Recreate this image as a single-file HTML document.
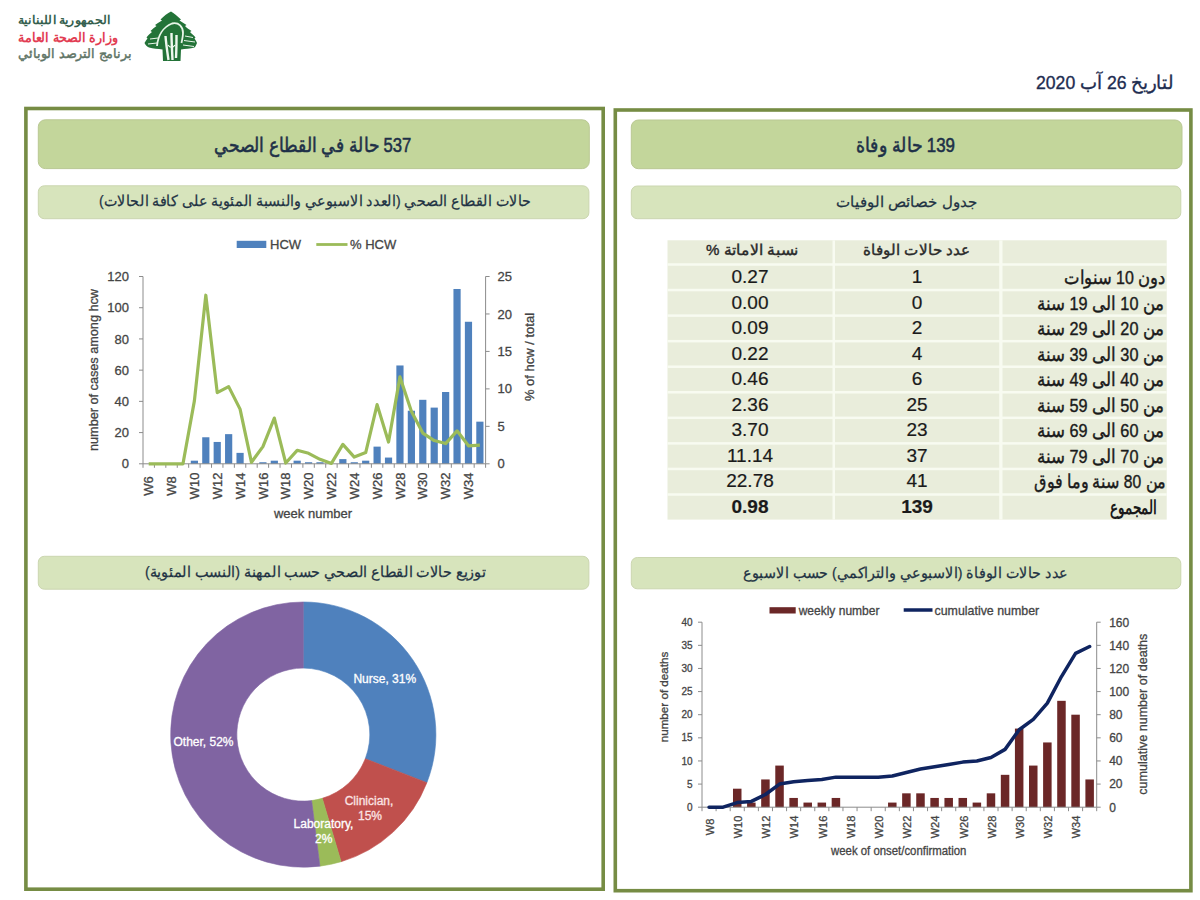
<!DOCTYPE html>
<html><head><meta charset="utf-8"><title>Report</title>
<style>
html,body{margin:0;padding:0;background:#ffffff;}
body{width:1200px;height:900px;position:relative;overflow:hidden;font-family:"Liberation Sans", sans-serif;}
.t{position:absolute;white-space:nowrap;line-height:1.2;transform-origin:0 0;}
.num{text-align:center;font-size:19px;color:#1a1a1a;-webkit-text-stroke:0.2px #1a1a1a;}
</style></head><body>
<svg width="1200" height="900" viewBox="0 0 1200 900" style="position:absolute;left:0;top:0" font-family='"Liberation Sans", sans-serif'>
<rect x="25.9" y="108.5" width="577.3" height="780.7" fill="none" stroke="#768c44" stroke-width="3.6"/>
<rect x="615.3" y="110" width="575.6" height="780.7" fill="none" stroke="#768c44" stroke-width="3.6"/>
<rect x="38.3" y="119.8" width="551" height="48.8" rx="7" fill="#c3d69b" stroke="#b9c893" stroke-width="1"/>
<rect x="631.3" y="120.0" width="550.7" height="48.7" rx="7" fill="#c3d69b" stroke="#b9c893" stroke-width="1"/>
<rect x="38.3" y="185.8" width="550.6" height="32.9" rx="6" fill="#d7e4bc" stroke="#cbd6b0" stroke-width="1"/>
<rect x="631.3" y="186.0" width="549.5" height="32.7" rx="6" fill="#d7e4bc" stroke="#cbd6b0" stroke-width="1"/>
<rect x="38.3" y="556.3" width="550.6" height="32.9" rx="6" fill="#d7e4bc" stroke="#cbd6b0" stroke-width="1"/>
<rect x="631.3" y="557.5" width="549.5" height="31.3" rx="6" fill="#d7e4bc" stroke="#cbd6b0" stroke-width="1"/>
<rect x="667.5" y="240.3" width="499.2" height="279.3" fill="#e9eddb"/>
<rect x="832.5" y="240.3" width="2.5" height="279.3" fill="#f8fbf1"/>
<rect x="999.2" y="240.3" width="3.3" height="279.3" fill="#f8fbf1"/>
<rect x="667.5" y="263.25" width="499.2" height="2.5" fill="#f8fbf1"/>
<rect x="667.5" y="288.81" width="499.2" height="2.5" fill="#f8fbf1"/>
<rect x="667.5" y="314.36" width="499.2" height="2.5" fill="#f8fbf1"/>
<rect x="667.5" y="339.92" width="499.2" height="2.5" fill="#f8fbf1"/>
<rect x="667.5" y="365.47" width="499.2" height="2.5" fill="#f8fbf1"/>
<rect x="667.5" y="391.03" width="499.2" height="2.5" fill="#f8fbf1"/>
<rect x="667.5" y="416.58" width="499.2" height="2.5" fill="#f8fbf1"/>
<rect x="667.5" y="442.14" width="499.2" height="2.5" fill="#f8fbf1"/>
<rect x="667.5" y="467.69" width="499.2" height="2.5" fill="#f8fbf1"/>
<rect x="667.5" y="493.25" width="499.2" height="2.5" fill="#f8fbf1"/>
<line x1="143.0" y1="276.5" x2="143.0" y2="463.8" stroke="#8c8c8c" stroke-width="1"/>
<line x1="485.6" y1="276.5" x2="485.6" y2="463.8" stroke="#8c8c8c" stroke-width="1"/>
<rect x="190.79" y="460.68" width="7.2" height="3.12" fill="#4f81bd"/>
<rect x="202.21" y="437.27" width="7.2" height="26.53" fill="#4f81bd"/>
<rect x="213.63" y="441.95" width="7.2" height="21.85" fill="#4f81bd"/>
<rect x="225.05" y="434.14" width="7.2" height="29.66" fill="#4f81bd"/>
<rect x="236.47" y="452.87" width="7.2" height="10.93" fill="#4f81bd"/>
<rect x="259.31" y="462.24" width="7.2" height="1.56" fill="#4f81bd"/>
<rect x="270.73" y="460.68" width="7.2" height="3.12" fill="#4f81bd"/>
<rect x="293.57" y="460.68" width="7.2" height="3.12" fill="#4f81bd"/>
<rect x="304.99" y="462.24" width="7.2" height="1.56" fill="#4f81bd"/>
<rect x="316.41" y="462.24" width="7.2" height="1.56" fill="#4f81bd"/>
<rect x="339.25" y="459.12" width="7.2" height="4.68" fill="#4f81bd"/>
<rect x="350.67" y="462.24" width="7.2" height="1.56" fill="#4f81bd"/>
<rect x="362.09" y="460.68" width="7.2" height="3.12" fill="#4f81bd"/>
<rect x="373.51" y="446.63" width="7.2" height="17.17" fill="#4f81bd"/>
<rect x="384.93" y="457.56" width="7.2" height="6.24" fill="#4f81bd"/>
<rect x="396.35" y="365.47" width="7.2" height="98.33" fill="#4f81bd"/>
<rect x="407.77" y="410.73" width="7.2" height="53.07" fill="#4f81bd"/>
<rect x="419.19" y="399.81" width="7.2" height="63.99" fill="#4f81bd"/>
<rect x="430.61" y="407.61" width="7.2" height="56.19" fill="#4f81bd"/>
<rect x="442.03" y="392.00" width="7.2" height="71.80" fill="#4f81bd"/>
<rect x="453.45" y="288.99" width="7.2" height="174.81" fill="#4f81bd"/>
<rect x="464.87" y="321.76" width="7.2" height="142.04" fill="#4f81bd"/>
<rect x="476.29" y="421.66" width="7.2" height="42.14" fill="#4f81bd"/>
<line x1="143.0" y1="463.8" x2="485.6" y2="463.8" stroke="#8c8c8c" stroke-width="1"/>
<line x1="139.0" y1="463.80" x2="143.0" y2="463.80" stroke="#8c8c8c" stroke-width="1"/>
<text x="129.0" y="468.40" text-anchor="end" font-size="13" fill="#454545" stroke="#454545" stroke-width="0.3">0</text>
<line x1="139.0" y1="432.58" x2="143.0" y2="432.58" stroke="#8c8c8c" stroke-width="1"/>
<text x="129.0" y="437.18" text-anchor="end" font-size="13" fill="#454545" stroke="#454545" stroke-width="0.3">20</text>
<line x1="139.0" y1="401.37" x2="143.0" y2="401.37" stroke="#8c8c8c" stroke-width="1"/>
<text x="129.0" y="405.97" text-anchor="end" font-size="13" fill="#454545" stroke="#454545" stroke-width="0.3">40</text>
<line x1="139.0" y1="370.15" x2="143.0" y2="370.15" stroke="#8c8c8c" stroke-width="1"/>
<text x="129.0" y="374.75" text-anchor="end" font-size="13" fill="#454545" stroke="#454545" stroke-width="0.3">60</text>
<line x1="139.0" y1="338.93" x2="143.0" y2="338.93" stroke="#8c8c8c" stroke-width="1"/>
<text x="129.0" y="343.53" text-anchor="end" font-size="13" fill="#454545" stroke="#454545" stroke-width="0.3">80</text>
<line x1="139.0" y1="307.72" x2="143.0" y2="307.72" stroke="#8c8c8c" stroke-width="1"/>
<text x="129.0" y="312.32" text-anchor="end" font-size="13" fill="#454545" stroke="#454545" stroke-width="0.3">100</text>
<line x1="139.0" y1="276.50" x2="143.0" y2="276.50" stroke="#8c8c8c" stroke-width="1"/>
<text x="129.0" y="281.10" text-anchor="end" font-size="13" fill="#454545" stroke="#454545" stroke-width="0.3">120</text>
<line x1="485.6" y1="463.80" x2="489.6" y2="463.80" stroke="#8c8c8c" stroke-width="1"/>
<text x="497.6" y="468.40" text-anchor="start" font-size="13" fill="#454545" stroke="#454545" stroke-width="0.3">0</text>
<line x1="485.6" y1="426.34" x2="489.6" y2="426.34" stroke="#8c8c8c" stroke-width="1"/>
<text x="497.6" y="430.94" text-anchor="start" font-size="13" fill="#454545" stroke="#454545" stroke-width="0.3">5</text>
<line x1="485.6" y1="388.88" x2="489.6" y2="388.88" stroke="#8c8c8c" stroke-width="1"/>
<text x="497.6" y="393.48" text-anchor="start" font-size="13" fill="#454545" stroke="#454545" stroke-width="0.3">10</text>
<line x1="485.6" y1="351.42" x2="489.6" y2="351.42" stroke="#8c8c8c" stroke-width="1"/>
<text x="497.6" y="356.02" text-anchor="start" font-size="13" fill="#454545" stroke="#454545" stroke-width="0.3">15</text>
<line x1="485.6" y1="313.96" x2="489.6" y2="313.96" stroke="#8c8c8c" stroke-width="1"/>
<text x="497.6" y="318.56" text-anchor="start" font-size="13" fill="#454545" stroke="#454545" stroke-width="0.3">20</text>
<line x1="485.6" y1="276.50" x2="489.6" y2="276.50" stroke="#8c8c8c" stroke-width="1"/>
<text x="497.6" y="281.10" text-anchor="start" font-size="13" fill="#454545" stroke="#454545" stroke-width="0.3">25</text>
<line x1="143.00" y1="463.8" x2="143.00" y2="467.8" stroke="#8c8c8c" stroke-width="1"/>
<line x1="154.42" y1="463.8" x2="154.42" y2="467.8" stroke="#8c8c8c" stroke-width="1"/>
<line x1="165.84" y1="463.8" x2="165.84" y2="467.8" stroke="#8c8c8c" stroke-width="1"/>
<line x1="177.26" y1="463.8" x2="177.26" y2="467.8" stroke="#8c8c8c" stroke-width="1"/>
<line x1="188.68" y1="463.8" x2="188.68" y2="467.8" stroke="#8c8c8c" stroke-width="1"/>
<line x1="200.10" y1="463.8" x2="200.10" y2="467.8" stroke="#8c8c8c" stroke-width="1"/>
<line x1="211.52" y1="463.8" x2="211.52" y2="467.8" stroke="#8c8c8c" stroke-width="1"/>
<line x1="222.94" y1="463.8" x2="222.94" y2="467.8" stroke="#8c8c8c" stroke-width="1"/>
<line x1="234.36" y1="463.8" x2="234.36" y2="467.8" stroke="#8c8c8c" stroke-width="1"/>
<line x1="245.78" y1="463.8" x2="245.78" y2="467.8" stroke="#8c8c8c" stroke-width="1"/>
<line x1="257.20" y1="463.8" x2="257.20" y2="467.8" stroke="#8c8c8c" stroke-width="1"/>
<line x1="268.62" y1="463.8" x2="268.62" y2="467.8" stroke="#8c8c8c" stroke-width="1"/>
<line x1="280.04" y1="463.8" x2="280.04" y2="467.8" stroke="#8c8c8c" stroke-width="1"/>
<line x1="291.46" y1="463.8" x2="291.46" y2="467.8" stroke="#8c8c8c" stroke-width="1"/>
<line x1="302.88" y1="463.8" x2="302.88" y2="467.8" stroke="#8c8c8c" stroke-width="1"/>
<line x1="314.30" y1="463.8" x2="314.30" y2="467.8" stroke="#8c8c8c" stroke-width="1"/>
<line x1="325.72" y1="463.8" x2="325.72" y2="467.8" stroke="#8c8c8c" stroke-width="1"/>
<line x1="337.14" y1="463.8" x2="337.14" y2="467.8" stroke="#8c8c8c" stroke-width="1"/>
<line x1="348.56" y1="463.8" x2="348.56" y2="467.8" stroke="#8c8c8c" stroke-width="1"/>
<line x1="359.98" y1="463.8" x2="359.98" y2="467.8" stroke="#8c8c8c" stroke-width="1"/>
<line x1="371.40" y1="463.8" x2="371.40" y2="467.8" stroke="#8c8c8c" stroke-width="1"/>
<line x1="382.82" y1="463.8" x2="382.82" y2="467.8" stroke="#8c8c8c" stroke-width="1"/>
<line x1="394.24" y1="463.8" x2="394.24" y2="467.8" stroke="#8c8c8c" stroke-width="1"/>
<line x1="405.66" y1="463.8" x2="405.66" y2="467.8" stroke="#8c8c8c" stroke-width="1"/>
<line x1="417.08" y1="463.8" x2="417.08" y2="467.8" stroke="#8c8c8c" stroke-width="1"/>
<line x1="428.50" y1="463.8" x2="428.50" y2="467.8" stroke="#8c8c8c" stroke-width="1"/>
<line x1="439.92" y1="463.8" x2="439.92" y2="467.8" stroke="#8c8c8c" stroke-width="1"/>
<line x1="451.34" y1="463.8" x2="451.34" y2="467.8" stroke="#8c8c8c" stroke-width="1"/>
<line x1="462.76" y1="463.8" x2="462.76" y2="467.8" stroke="#8c8c8c" stroke-width="1"/>
<line x1="474.18" y1="463.8" x2="474.18" y2="467.8" stroke="#8c8c8c" stroke-width="1"/>
<line x1="485.60" y1="463.8" x2="485.60" y2="467.8" stroke="#8c8c8c" stroke-width="1"/>
<text transform="translate(153.31,486) rotate(-90)" text-anchor="middle" font-size="13" fill="#454545" stroke="#454545" stroke-width="0.3">W6</text>
<text transform="translate(176.15,486) rotate(-90)" text-anchor="middle" font-size="13" fill="#454545" stroke="#454545" stroke-width="0.3">W8</text>
<text transform="translate(198.99,486) rotate(-90)" text-anchor="middle" font-size="13" fill="#454545" stroke="#454545" stroke-width="0.3">W10</text>
<text transform="translate(221.83,486) rotate(-90)" text-anchor="middle" font-size="13" fill="#454545" stroke="#454545" stroke-width="0.3">W12</text>
<text transform="translate(244.67,486) rotate(-90)" text-anchor="middle" font-size="13" fill="#454545" stroke="#454545" stroke-width="0.3">W14</text>
<text transform="translate(267.51,486) rotate(-90)" text-anchor="middle" font-size="13" fill="#454545" stroke="#454545" stroke-width="0.3">W16</text>
<text transform="translate(290.35,486) rotate(-90)" text-anchor="middle" font-size="13" fill="#454545" stroke="#454545" stroke-width="0.3">W18</text>
<text transform="translate(313.19,486) rotate(-90)" text-anchor="middle" font-size="13" fill="#454545" stroke="#454545" stroke-width="0.3">W20</text>
<text transform="translate(336.03,486) rotate(-90)" text-anchor="middle" font-size="13" fill="#454545" stroke="#454545" stroke-width="0.3">W22</text>
<text transform="translate(358.87,486) rotate(-90)" text-anchor="middle" font-size="13" fill="#454545" stroke="#454545" stroke-width="0.3">W24</text>
<text transform="translate(381.71,486) rotate(-90)" text-anchor="middle" font-size="13" fill="#454545" stroke="#454545" stroke-width="0.3">W26</text>
<text transform="translate(404.55,486) rotate(-90)" text-anchor="middle" font-size="13" fill="#454545" stroke="#454545" stroke-width="0.3">W28</text>
<text transform="translate(427.39,486) rotate(-90)" text-anchor="middle" font-size="13" fill="#454545" stroke="#454545" stroke-width="0.3">W30</text>
<text transform="translate(450.23,486) rotate(-90)" text-anchor="middle" font-size="13" fill="#454545" stroke="#454545" stroke-width="0.3">W32</text>
<text transform="translate(473.07,486) rotate(-90)" text-anchor="middle" font-size="13" fill="#454545" stroke="#454545" stroke-width="0.3">W34</text>
<polyline points="148.71,463.80 160.13,463.80 171.55,463.80 182.97,463.80 194.39,400.87 205.81,295.23 217.23,392.63 228.65,386.63 240.07,409.11 251.49,462.30 262.91,446.57 274.33,418.10 285.75,463.05 297.17,450.31 308.59,453.31 320.01,459.30 331.43,463.43 342.85,444.32 354.27,457.06 365.69,452.56 377.11,404.61 388.53,442.07 399.95,376.89 411.37,411.36 422.79,433.08 434.21,440.57 445.63,443.57 457.05,430.84 468.47,445.82 479.89,445.07" fill="none" stroke="#9bbb59" stroke-width="3.2" stroke-linejoin="round"/>
<text x="313" y="518" text-anchor="middle" font-size="13" fill="#454545" stroke="#454545" stroke-width="0.3">week number</text>
<text transform="translate(97.5,370) rotate(-90) scale(0.976,1)" text-anchor="middle" font-size="13" fill="#454545" stroke="#454545" stroke-width="0.3">number of cases among hcw</text>
<text transform="translate(534,357) rotate(-90)" text-anchor="middle" font-size="13" fill="#454545" stroke="#454545" stroke-width="0.3">% of hcw / total</text>
<rect x="236.7" y="240.8" width="29.6" height="7.2" fill="#4f81bd"/>
<text x="270" y="249" font-size="13" fill="#454545" stroke="#454545" stroke-width="0.3">HCW</text>
<line x1="316.3" y1="244.5" x2="347.5" y2="244.5" stroke="#9bbb59" stroke-width="2.8"/>
<text x="350" y="249" font-size="13" fill="#454545" stroke="#454545" stroke-width="0.3">% HCW</text>
<line x1="702.0" y1="622.2" x2="702.0" y2="807.2" stroke="#8c8c8c" stroke-width="1"/>
<line x1="1096.7" y1="622.2" x2="1096.7" y2="807.2" stroke="#8c8c8c" stroke-width="1"/>
<rect x="732.99" y="788.70" width="8.5" height="18.50" fill="#6b2727"/>
<rect x="747.09" y="802.58" width="8.5" height="4.62" fill="#6b2727"/>
<rect x="761.18" y="779.45" width="8.5" height="27.75" fill="#6b2727"/>
<rect x="775.28" y="765.58" width="8.5" height="41.62" fill="#6b2727"/>
<rect x="789.38" y="797.95" width="8.5" height="9.25" fill="#6b2727"/>
<rect x="803.47" y="802.58" width="8.5" height="4.62" fill="#6b2727"/>
<rect x="817.57" y="802.58" width="8.5" height="4.62" fill="#6b2727"/>
<rect x="831.67" y="797.95" width="8.5" height="9.25" fill="#6b2727"/>
<rect x="888.05" y="802.58" width="8.5" height="4.62" fill="#6b2727"/>
<rect x="902.15" y="793.33" width="8.5" height="13.88" fill="#6b2727"/>
<rect x="916.24" y="793.33" width="8.5" height="13.88" fill="#6b2727"/>
<rect x="930.34" y="797.95" width="8.5" height="9.25" fill="#6b2727"/>
<rect x="944.44" y="797.95" width="8.5" height="9.25" fill="#6b2727"/>
<rect x="958.53" y="797.95" width="8.5" height="9.25" fill="#6b2727"/>
<rect x="972.63" y="802.58" width="8.5" height="4.62" fill="#6b2727"/>
<rect x="986.73" y="793.33" width="8.5" height="13.88" fill="#6b2727"/>
<rect x="1000.82" y="774.83" width="8.5" height="32.38" fill="#6b2727"/>
<rect x="1014.92" y="728.58" width="8.5" height="78.62" fill="#6b2727"/>
<rect x="1029.02" y="765.58" width="8.5" height="41.62" fill="#6b2727"/>
<rect x="1043.11" y="742.45" width="8.5" height="64.75" fill="#6b2727"/>
<rect x="1057.21" y="700.83" width="8.5" height="106.38" fill="#6b2727"/>
<rect x="1071.31" y="714.70" width="8.5" height="92.50" fill="#6b2727"/>
<rect x="1085.40" y="779.45" width="8.5" height="27.75" fill="#6b2727"/>
<line x1="702.0" y1="807.2" x2="1096.7" y2="807.2" stroke="#8c8c8c" stroke-width="1"/>
<line x1="698.0" y1="807.20" x2="702.0" y2="807.20" stroke="#8c8c8c" stroke-width="1"/>
<text x="692.5" y="810.80" text-anchor="end" font-size="10" fill="#454545" stroke="#454545" stroke-width="0.3">0</text>
<line x1="698.0" y1="784.08" x2="702.0" y2="784.08" stroke="#8c8c8c" stroke-width="1"/>
<text x="692.5" y="787.68" text-anchor="end" font-size="10" fill="#454545" stroke="#454545" stroke-width="0.3">5</text>
<line x1="698.0" y1="760.95" x2="702.0" y2="760.95" stroke="#8c8c8c" stroke-width="1"/>
<text x="692.5" y="764.55" text-anchor="end" font-size="10" fill="#454545" stroke="#454545" stroke-width="0.3">10</text>
<line x1="698.0" y1="737.83" x2="702.0" y2="737.83" stroke="#8c8c8c" stroke-width="1"/>
<text x="692.5" y="741.43" text-anchor="end" font-size="10" fill="#454545" stroke="#454545" stroke-width="0.3">15</text>
<line x1="698.0" y1="714.70" x2="702.0" y2="714.70" stroke="#8c8c8c" stroke-width="1"/>
<text x="692.5" y="718.30" text-anchor="end" font-size="10" fill="#454545" stroke="#454545" stroke-width="0.3">20</text>
<line x1="698.0" y1="691.58" x2="702.0" y2="691.58" stroke="#8c8c8c" stroke-width="1"/>
<text x="692.5" y="695.18" text-anchor="end" font-size="10" fill="#454545" stroke="#454545" stroke-width="0.3">25</text>
<line x1="698.0" y1="668.45" x2="702.0" y2="668.45" stroke="#8c8c8c" stroke-width="1"/>
<text x="692.5" y="672.05" text-anchor="end" font-size="10" fill="#454545" stroke="#454545" stroke-width="0.3">30</text>
<line x1="698.0" y1="645.33" x2="702.0" y2="645.33" stroke="#8c8c8c" stroke-width="1"/>
<text x="692.5" y="648.93" text-anchor="end" font-size="10" fill="#454545" stroke="#454545" stroke-width="0.3">35</text>
<line x1="698.0" y1="622.20" x2="702.0" y2="622.20" stroke="#8c8c8c" stroke-width="1"/>
<text x="692.5" y="625.80" text-anchor="end" font-size="10" fill="#454545" stroke="#454545" stroke-width="0.3">40</text>
<line x1="1096.7" y1="807.20" x2="1100.7" y2="807.20" stroke="#8c8c8c" stroke-width="1"/>
<text x="1109.2" y="811.50" text-anchor="start" font-size="12" fill="#454545" stroke="#454545" stroke-width="0.3">0</text>
<line x1="1096.7" y1="784.08" x2="1100.7" y2="784.08" stroke="#8c8c8c" stroke-width="1"/>
<text x="1109.2" y="788.38" text-anchor="start" font-size="12" fill="#454545" stroke="#454545" stroke-width="0.3">20</text>
<line x1="1096.7" y1="760.95" x2="1100.7" y2="760.95" stroke="#8c8c8c" stroke-width="1"/>
<text x="1109.2" y="765.25" text-anchor="start" font-size="12" fill="#454545" stroke="#454545" stroke-width="0.3">40</text>
<line x1="1096.7" y1="737.83" x2="1100.7" y2="737.83" stroke="#8c8c8c" stroke-width="1"/>
<text x="1109.2" y="742.12" text-anchor="start" font-size="12" fill="#454545" stroke="#454545" stroke-width="0.3">60</text>
<line x1="1096.7" y1="714.70" x2="1100.7" y2="714.70" stroke="#8c8c8c" stroke-width="1"/>
<text x="1109.2" y="719.00" text-anchor="start" font-size="12" fill="#454545" stroke="#454545" stroke-width="0.3">80</text>
<line x1="1096.7" y1="691.58" x2="1100.7" y2="691.58" stroke="#8c8c8c" stroke-width="1"/>
<text x="1109.2" y="695.88" text-anchor="start" font-size="12" fill="#454545" stroke="#454545" stroke-width="0.3">100</text>
<line x1="1096.7" y1="668.45" x2="1100.7" y2="668.45" stroke="#8c8c8c" stroke-width="1"/>
<text x="1109.2" y="672.75" text-anchor="start" font-size="12" fill="#454545" stroke="#454545" stroke-width="0.3">120</text>
<line x1="1096.7" y1="645.33" x2="1100.7" y2="645.33" stroke="#8c8c8c" stroke-width="1"/>
<text x="1109.2" y="649.62" text-anchor="start" font-size="12" fill="#454545" stroke="#454545" stroke-width="0.3">140</text>
<line x1="1096.7" y1="622.20" x2="1100.7" y2="622.20" stroke="#8c8c8c" stroke-width="1"/>
<text x="1109.2" y="626.50" text-anchor="start" font-size="12" fill="#454545" stroke="#454545" stroke-width="0.3">160</text>
<line x1="702.00" y1="807.2" x2="702.00" y2="811.2" stroke="#8c8c8c" stroke-width="1"/>
<line x1="716.10" y1="807.2" x2="716.10" y2="811.2" stroke="#8c8c8c" stroke-width="1"/>
<line x1="730.19" y1="807.2" x2="730.19" y2="811.2" stroke="#8c8c8c" stroke-width="1"/>
<line x1="744.29" y1="807.2" x2="744.29" y2="811.2" stroke="#8c8c8c" stroke-width="1"/>
<line x1="758.39" y1="807.2" x2="758.39" y2="811.2" stroke="#8c8c8c" stroke-width="1"/>
<line x1="772.48" y1="807.2" x2="772.48" y2="811.2" stroke="#8c8c8c" stroke-width="1"/>
<line x1="786.58" y1="807.2" x2="786.58" y2="811.2" stroke="#8c8c8c" stroke-width="1"/>
<line x1="800.67" y1="807.2" x2="800.67" y2="811.2" stroke="#8c8c8c" stroke-width="1"/>
<line x1="814.77" y1="807.2" x2="814.77" y2="811.2" stroke="#8c8c8c" stroke-width="1"/>
<line x1="828.87" y1="807.2" x2="828.87" y2="811.2" stroke="#8c8c8c" stroke-width="1"/>
<line x1="842.96" y1="807.2" x2="842.96" y2="811.2" stroke="#8c8c8c" stroke-width="1"/>
<line x1="857.06" y1="807.2" x2="857.06" y2="811.2" stroke="#8c8c8c" stroke-width="1"/>
<line x1="871.16" y1="807.2" x2="871.16" y2="811.2" stroke="#8c8c8c" stroke-width="1"/>
<line x1="885.25" y1="807.2" x2="885.25" y2="811.2" stroke="#8c8c8c" stroke-width="1"/>
<line x1="899.35" y1="807.2" x2="899.35" y2="811.2" stroke="#8c8c8c" stroke-width="1"/>
<line x1="913.45" y1="807.2" x2="913.45" y2="811.2" stroke="#8c8c8c" stroke-width="1"/>
<line x1="927.54" y1="807.2" x2="927.54" y2="811.2" stroke="#8c8c8c" stroke-width="1"/>
<line x1="941.64" y1="807.2" x2="941.64" y2="811.2" stroke="#8c8c8c" stroke-width="1"/>
<line x1="955.74" y1="807.2" x2="955.74" y2="811.2" stroke="#8c8c8c" stroke-width="1"/>
<line x1="969.83" y1="807.2" x2="969.83" y2="811.2" stroke="#8c8c8c" stroke-width="1"/>
<line x1="983.93" y1="807.2" x2="983.93" y2="811.2" stroke="#8c8c8c" stroke-width="1"/>
<line x1="998.03" y1="807.2" x2="998.03" y2="811.2" stroke="#8c8c8c" stroke-width="1"/>
<line x1="1012.12" y1="807.2" x2="1012.12" y2="811.2" stroke="#8c8c8c" stroke-width="1"/>
<line x1="1026.22" y1="807.2" x2="1026.22" y2="811.2" stroke="#8c8c8c" stroke-width="1"/>
<line x1="1040.31" y1="807.2" x2="1040.31" y2="811.2" stroke="#8c8c8c" stroke-width="1"/>
<line x1="1054.41" y1="807.2" x2="1054.41" y2="811.2" stroke="#8c8c8c" stroke-width="1"/>
<line x1="1068.51" y1="807.2" x2="1068.51" y2="811.2" stroke="#8c8c8c" stroke-width="1"/>
<line x1="1082.60" y1="807.2" x2="1082.60" y2="811.2" stroke="#8c8c8c" stroke-width="1"/>
<line x1="1096.70" y1="807.2" x2="1096.70" y2="811.2" stroke="#8c8c8c" stroke-width="1"/>
<text transform="translate(713.85,827) rotate(-90)" text-anchor="middle" font-size="11" fill="#454545" stroke="#454545" stroke-width="0.3">W8</text>
<text transform="translate(742.04,827) rotate(-90)" text-anchor="middle" font-size="11" fill="#454545" stroke="#454545" stroke-width="0.3">W10</text>
<text transform="translate(770.23,827) rotate(-90)" text-anchor="middle" font-size="11" fill="#454545" stroke="#454545" stroke-width="0.3">W12</text>
<text transform="translate(798.43,827) rotate(-90)" text-anchor="middle" font-size="11" fill="#454545" stroke="#454545" stroke-width="0.3">W14</text>
<text transform="translate(826.62,827) rotate(-90)" text-anchor="middle" font-size="11" fill="#454545" stroke="#454545" stroke-width="0.3">W16</text>
<text transform="translate(854.81,827) rotate(-90)" text-anchor="middle" font-size="11" fill="#454545" stroke="#454545" stroke-width="0.3">W18</text>
<text transform="translate(883.01,827) rotate(-90)" text-anchor="middle" font-size="11" fill="#454545" stroke="#454545" stroke-width="0.3">W20</text>
<text transform="translate(911.20,827) rotate(-90)" text-anchor="middle" font-size="11" fill="#454545" stroke="#454545" stroke-width="0.3">W22</text>
<text transform="translate(939.39,827) rotate(-90)" text-anchor="middle" font-size="11" fill="#454545" stroke="#454545" stroke-width="0.3">W24</text>
<text transform="translate(967.58,827) rotate(-90)" text-anchor="middle" font-size="11" fill="#454545" stroke="#454545" stroke-width="0.3">W26</text>
<text transform="translate(995.78,827) rotate(-90)" text-anchor="middle" font-size="11" fill="#454545" stroke="#454545" stroke-width="0.3">W28</text>
<text transform="translate(1023.97,827) rotate(-90)" text-anchor="middle" font-size="11" fill="#454545" stroke="#454545" stroke-width="0.3">W30</text>
<text transform="translate(1052.16,827) rotate(-90)" text-anchor="middle" font-size="11" fill="#454545" stroke="#454545" stroke-width="0.3">W32</text>
<text transform="translate(1080.36,827) rotate(-90)" text-anchor="middle" font-size="11" fill="#454545" stroke="#454545" stroke-width="0.3">W34</text>
<polyline points="709.05,807.20 723.14,807.20 737.24,802.58 751.34,801.42 765.43,794.48 779.53,784.08 793.63,781.76 807.72,780.61 821.82,779.45 835.92,777.14 850.01,777.14 864.11,777.14 878.21,777.14 892.30,775.98 906.40,772.51 920.49,769.04 934.59,766.73 948.69,764.42 962.78,762.11 976.88,760.95 990.98,757.48 1005.07,749.39 1019.17,729.73 1033.27,719.33 1047.36,703.14 1061.46,676.54 1075.56,653.42 1089.65,646.48" fill="none" stroke="#0f2460" stroke-width="3.5" stroke-linejoin="round" stroke-linecap="round"/>
<text transform="translate(898.7,855) scale(0.949,1)" text-anchor="middle" font-size="12" fill="#454545" stroke="#454545" stroke-width="0.3">week of onset/confirmation</text>
<text transform="translate(667.5,697) rotate(-90) scale(1.059,1)" text-anchor="middle" font-size="11" fill="#454545" stroke="#454545" stroke-width="0.3">number of deaths</text>
<text transform="translate(1146.5,714.2) rotate(-90) scale(0.967,1)" text-anchor="middle" font-size="13" fill="#454545" stroke="#454545" stroke-width="0.3">cumulative number of deaths</text>
<rect x="769.5" y="607.2" width="26.2" height="6.3" fill="#6b2727"/>
<text x="798.7" y="614.5" font-size="12" fill="#454545" stroke="#454545" stroke-width="0.3">weekly number</text>
<line x1="903.7" y1="610" x2="932.5" y2="610" stroke="#0f2460" stroke-width="3.5"/>
<text transform="translate(934.5,614.5) scale(1.034,1)" font-size="12" fill="#454545" stroke="#454545" stroke-width="0.3">cumulative number</text>
<path d="M303.30,602.00 A132.6,132.6 0 0 1 426.89,782.64 L365.28,758.69 A66.5,66.5 0 0 0 303.30,668.10 Z" fill="#4f81bd" stroke="#4f81bd" stroke-width="0.6" stroke-linejoin="round"/>
<path d="M426.89,782.64 A132.6,132.6 0 0 1 341.09,861.70 L322.25,798.34 A66.5,66.5 0 0 0 365.28,758.69 Z" fill="#c0504d" stroke="#c0504d" stroke-width="0.6" stroke-linejoin="round"/>
<path d="M341.09,861.70 A132.6,132.6 0 0 1 319.92,866.15 L311.63,800.58 A66.5,66.5 0 0 0 322.25,798.34 Z" fill="#9bbb59" stroke="#9bbb59" stroke-width="0.6" stroke-linejoin="round"/>
<path d="M319.92,866.15 A132.6,132.6 0 1 1 303.30,602.00 L303.30,668.10 A66.5,66.5 0 1 0 311.63,800.58 Z" fill="#8064a2" stroke="#8064a2" stroke-width="0.6" stroke-linejoin="round"/>
<text x="384.8" y="683" text-anchor="middle" font-size="12" fill="#ffffff" stroke="#ffffff" stroke-width="0.3">Nurse, 31%</text>
<text x="203.5" y="746" text-anchor="middle" font-size="12" fill="#ffffff" stroke="#ffffff" stroke-width="0.3">Other, 52%</text>
<text x="369" y="804.5" text-anchor="middle" font-size="12" fill="#fbe3e3" stroke="#fbe3e3" stroke-width="0.3">Clinician,</text>
<text x="370" y="820" text-anchor="middle" font-size="12" fill="#fbe3e3" stroke="#fbe3e3" stroke-width="0.3">15%</text>
<text x="323.5" y="828" text-anchor="middle" font-size="12" fill="#ffffff" stroke="#ffffff" stroke-width="0.3">Laboratory,</text>
<text x="323.7" y="843" text-anchor="middle" font-size="12" fill="#ffffff" stroke="#ffffff" stroke-width="0.3">2%</text>
<path d="M171,11.5 C174,13 177,16 181,19.5 L179.5,20.5 C182,22 184,23.5 186.5,25 L185,26 C187,28 189,29.5 191.5,31 L190,32 C192,34 194,35.5 195.5,37.5 L194.5,38.5 C195.5,40 196.5,41.5 197,43 C196,45 195.5,46.5 194.5,47.5 C190,48.5 185,49 181,49.5 L180.5,61 L163,61 L162.5,49.5 C158,49 153,48.5 149,47.5 C147,46.5 145.5,45 144.5,43 C145.5,41 146.5,39.5 147.5,38.5 L146.5,37.5 C148,35.5 150,33.5 152,32 L150.5,31 C152.5,29 154.5,27.5 156.5,26 L155,25 C157,23.5 159.5,22 162,20.5 L160.5,19.5 C164,16 167.5,13 171,11.5 Z" fill="#237338"/>
<path d="M157,46 C158,36 163,27 172,23.5 C179,22 183,27 183,33 C183,37 182,40 181.5,43" fill="none" stroke="#e8f5e8" stroke-width="1.8"/>
<path d="M165.5,36 C166,43 167,50 168.5,60 M171.5,33 C171.5,41 172,49 172.5,60 M176.5,35 C176.5,42 176.5,50 176,58" fill="none" stroke="#eef8ee" stroke-width="2.4"/>
<path d="M168,45 C170,48 173,48 175,45" fill="none" stroke="#eef8ee" stroke-width="1.2"/>
<path d="M185,36 L193,37.5 M184,40.5 L195,42 M183,45 L194,46.5 M148,44 L157,43 M150,39 L158,38" fill="none" stroke="#e8f5e8" stroke-width="1"/>
</svg>
<div class="t" dir="rtl" style="left:18.3px;top:14.2px;font-size:11.5px;color:#355f4e;font-weight:bold;transform:scaleX(1.0455);">الجمهورية اللبنانية</div><div class="t" dir="rtl" style="left:18.0px;top:30.5px;font-size:12.5px;color:#e23d52;font-weight:bold;transform:scaleX(0.9746);">وزارة الصحة العامة</div><div class="t" dir="rtl" style="left:18.0px;top:47.3px;font-size:12.5px;color:#5f7566;font-weight:normal;transform:scaleX(0.9829);-webkit-text-stroke:0.45px #5f7566;">برنامج الترصد الوبائي</div><div class="t" dir="rtl" style="left:1036.0px;top:71.8px;font-size:18.5px;color:#1d2c50;font-weight:normal;transform:scaleX(0.9527);-webkit-text-stroke:0.35px #1d2c50;">لتاريخ 26 آب 2020</div><div class="t" dir="rtl" style="left:214.0px;top:134.2px;font-size:19.5px;color:#1e3048;font-weight:normal;transform:scaleX(0.8534);-webkit-text-stroke:0.55px #1e3048;">537 حالة في القطاع الصحي</div><div class="t" dir="rtl" style="left:856.3px;top:133.8px;font-size:19.5px;color:#1e3048;font-weight:normal;transform:scaleX(0.8655);-webkit-text-stroke:0.55px #1e3048;">139 حالة وفاة</div><div class="t" dir="rtl" style="left:98.5px;top:193.0px;font-size:14.8px;color:#1f3344;font-weight:normal;transform:scaleX(0.9498);-webkit-text-stroke:0.25px #1f3344;">حالات القطاع الصحي (العدد الاسبوعي والنسبة المئوية على كافة الحالات)</div><div class="t" dir="rtl" style="left:836.0px;top:193.0px;font-size:15px;color:#1f3344;font-weight:normal;transform:scaleX(1.0021);-webkit-text-stroke:0.25px #1f3344;">جدول خصائص الوفيات</div><div class="t" dir="rtl" style="left:145.0px;top:564.0px;font-size:14.8px;color:#1f3344;font-weight:normal;transform:scaleX(0.9605);-webkit-text-stroke:0.25px #1f3344;">توزيع حالات القطاع الصحي حسب المهنة (النسب المئوية)</div><div class="t" dir="rtl" style="left:742.7px;top:565.0px;font-size:14.8px;color:#1f3344;font-weight:normal;transform:scaleX(0.9538);-webkit-text-stroke:0.25px #1f3344;">عدد حالات الوفاة (الاسبوعي والتراكمي) حسب الاسبوع</div><div class="t" dir="rtl" style="left:705.8px;top:241.5px;font-size:14.5px;color:#2a2a2a;font-weight:normal;transform:scaleX(1.0393);-webkit-text-stroke:0.4px #2a2a2a;">نسبة الاماتة %</div><div class="t" dir="rtl" style="left:862.8px;top:241.5px;font-size:14.5px;color:#2a2a2a;font-weight:normal;transform:scaleX(1.0094);-webkit-text-stroke:0.4px #2a2a2a;">عدد حالات الوفاة</div><div class="t" dir="rtl" style="left:1064.0px;top:267.0px;font-size:18.5px;color:#1a1a1a;font-weight:normal;transform:scaleX(0.8644);-webkit-text-stroke:0.4px #1a1a1a;">دون 10 سنوات</div><div class="t" dir="rtl" style="left:1037.0px;top:292.6px;font-size:18.5px;color:#1a1a1a;font-weight:normal;transform:scaleX(0.8776);-webkit-text-stroke:0.4px #1a1a1a;">من 10 الى 19 سنة</div><div class="t" dir="rtl" style="left:1037.0px;top:318.1px;font-size:18.5px;color:#1a1a1a;font-weight:normal;transform:scaleX(0.8776);-webkit-text-stroke:0.4px #1a1a1a;">من 20 الى 29 سنة</div><div class="t" dir="rtl" style="left:1037.0px;top:343.7px;font-size:18.5px;color:#1a1a1a;font-weight:normal;transform:scaleX(0.8776);-webkit-text-stroke:0.4px #1a1a1a;">من 30 الى 39 سنة</div><div class="t" dir="rtl" style="left:1037.0px;top:369.2px;font-size:18.5px;color:#1a1a1a;font-weight:normal;transform:scaleX(0.8776);-webkit-text-stroke:0.4px #1a1a1a;">من 40 الى 49 سنة</div><div class="t" dir="rtl" style="left:1037.0px;top:394.8px;font-size:18.5px;color:#1a1a1a;font-weight:normal;transform:scaleX(0.8776);-webkit-text-stroke:0.4px #1a1a1a;">من 50 الى 59 سنة</div><div class="t" dir="rtl" style="left:1037.0px;top:420.3px;font-size:18.5px;color:#1a1a1a;font-weight:normal;transform:scaleX(0.8776);-webkit-text-stroke:0.4px #1a1a1a;">من 60 الى 69 سنة</div><div class="t" dir="rtl" style="left:1037.0px;top:445.9px;font-size:18.5px;color:#1a1a1a;font-weight:normal;transform:scaleX(0.8776);-webkit-text-stroke:0.4px #1a1a1a;">من 70 الى 79 سنة</div><div class="t" dir="rtl" style="left:1033.5px;top:471.4px;font-size:18.5px;color:#1a1a1a;font-weight:normal;transform:scaleX(0.8439);-webkit-text-stroke:0.4px #1a1a1a;">من 80 سنة وما فوق</div><div class="t" dir="rtl" style="left:1110.0px;top:497.3px;font-size:18.5px;color:#1a1a1a;font-weight:bold;transform:scaleX(0.7089);">المجموع</div><div class="t num" style="left:817px;width:200px;top:266.0px">1</div><div class="t num" style="left:650px;width:200px;top:266.0px">0.27</div><div class="t num" style="left:817px;width:200px;top:291.6px">0</div><div class="t num" style="left:650px;width:200px;top:291.6px">0.00</div><div class="t num" style="left:817px;width:200px;top:317.1px">2</div><div class="t num" style="left:650px;width:200px;top:317.1px">0.09</div><div class="t num" style="left:817px;width:200px;top:342.7px">4</div><div class="t num" style="left:650px;width:200px;top:342.7px">0.22</div><div class="t num" style="left:817px;width:200px;top:368.2px">6</div><div class="t num" style="left:650px;width:200px;top:368.2px">0.46</div><div class="t num" style="left:817px;width:200px;top:393.8px">25</div><div class="t num" style="left:650px;width:200px;top:393.8px">2.36</div><div class="t num" style="left:817px;width:200px;top:419.3px">23</div><div class="t num" style="left:650px;width:200px;top:419.3px">3.70</div><div class="t num" style="left:817px;width:200px;top:444.9px">37</div><div class="t num" style="left:650px;width:200px;top:444.9px">11.14</div><div class="t num" style="left:817px;width:200px;top:470.4px">41</div><div class="t num" style="left:650px;width:200px;top:470.4px">22.78</div><div class="t num" style="left:817px;width:200px;top:496.0px;font-weight:bold">139</div><div class="t num" style="left:650px;width:200px;top:496.0px;font-weight:bold">0.98</div>
</body></html>
